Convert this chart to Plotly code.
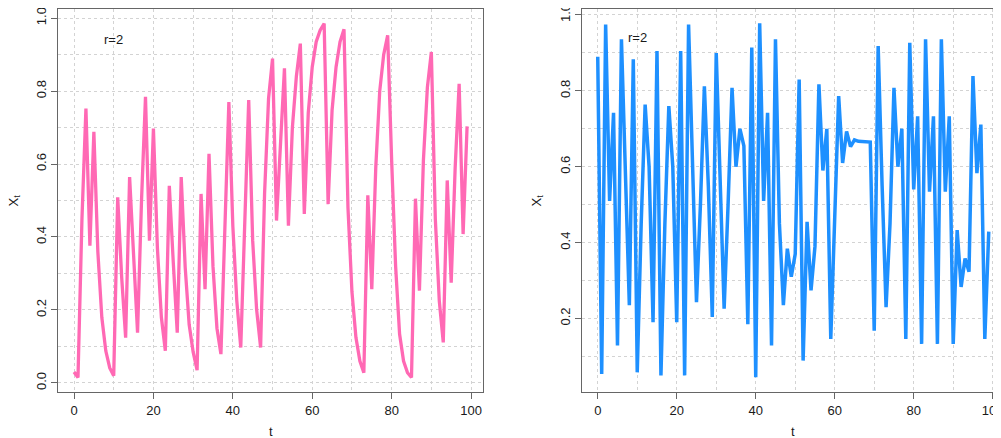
import plotly.graph_objects as go

t = list(range(100))

pink_x = [0.03, 0.015, 0.45, 0.752, 0.376, 0.688, 0.36, 0.18, 0.088, 0.041,
          0.02, 0.509, 0.29, 0.124, 0.564, 0.34, 0.138, 0.5, 0.784, 0.39,
          0.697, 0.37, 0.18, 0.088, 0.54, 0.33, 0.138, 0.564, 0.317, 0.16,
          0.085, 0.035, 0.518, 0.257, 0.628, 0.32, 0.15, 0.079, 0.42, 0.77,
          0.43, 0.225, 0.097, 0.45, 0.775, 0.39, 0.2, 0.097, 0.52, 0.78,
          0.889, 0.445, 0.65, 0.862, 0.431, 0.70, 0.84, 0.93, 0.463, 0.74,
          0.866, 0.935, 0.967, 0.985, 0.49, 0.748, 0.866, 0.935, 0.969, 0.48,
          0.25, 0.125, 0.06, 0.028, 0.514, 0.257, 0.59, 0.80, 0.90, 0.953,
          0.61, 0.32, 0.134, 0.06, 0.028, 0.015, 0.505, 0.253, 0.61, 0.81,
          0.907, 0.45, 0.225, 0.111, 0.555, 0.275, 0.59, 0.82, 0.408, 0.703]

blue_x = [0.89, 0.054, 0.975, 0.51, 0.742, 0.129, 0.936, 0.55, 0.235, 0.883,
          0.058, 0.45, 0.764, 0.60, 0.19, 0.905, 0.05, 0.45, 0.76, 0.60,
          0.19, 0.905, 0.05, 0.975, 0.58, 0.243, 0.50, 0.812, 0.55, 0.204,
          0.90, 0.55, 0.226, 0.50, 0.808, 0.60, 0.70, 0.655, 0.185, 0.914,
          0.045, 0.978, 0.51, 0.742, 0.129, 0.936, 0.45, 0.235, 0.384, 0.31,
          0.37, 0.83, 0.089, 0.455, 0.274, 0.39, 0.817, 0.59, 0.70, 0.146,
          0.45, 0.786, 0.61, 0.693, 0.653, 0.671, 0.667, 0.667, 0.667, 0.665,
          0.168, 0.918, 0.55, 0.23, 0.45, 0.808, 0.60, 0.70, 0.146, 0.927,
          0.54, 0.733, 0.133, 0.936, 0.534, 0.733, 0.133, 0.936, 0.534, 0.733,
          0.133, 0.433, 0.283, 0.358, 0.323, 0.839, 0.583, 0.711, 0.146, 0.429]

x_ticks = [0, 20, 40, 60, 80, 100]
y_ticks = [0.0, 0.2, 0.4, 0.6, 0.8, 1.0]
y_tick_text = ["0.0", "0.2", "0.4", "0.6", "0.8", "1.0"]
label_text = "r=2"

# the page body has an 8px margin; work in window pixels and shift
OFF = 8
W, H = 1001 - OFF, 438 - OFF
FONT = "Liberation Sans, Arial, sans-serif"
FRAME = "#666666"
GRID = "#d3d3d3"
TXT = "#1a1a1a"

fig = go.Figure()
fig.add_trace(go.Scatter(x=t, y=pink_x, mode="lines",
                         line=dict(color="#FF69B4", width=3.3),
                         xaxis="x", yaxis="y", showlegend=False))
fig.add_trace(go.Scatter(x=t, y=blue_x, mode="lines",
                         line=dict(color="#1E90FF", width=3.5),
                         xaxis="x2", yaxis="y2", showlegend=False))

# panel geometry in window pixels
L1, R1 = 58.3, 482.8
L2, R2 = 582.1, 1001.0
TOP, BOT = 9.3, 391.7

def px(v):
    return (v - OFF) / W

def py(v):
    return (H - (v - OFF)) / H

ydom = [py(BOT), py(TOP)]

def xaxis(dom, rng, anchor):
    return dict(domain=[px(dom[0]), min(1.0, px(dom[1]))], range=rng, anchor=anchor,
                tickmode="array", tickvals=x_ticks,
                ticktext=[str(v) for v in x_ticks],
                showgrid=True, gridcolor=GRID, griddash="dot", gridwidth=1,
                minor=dict(dtick=10, tick0=0, showgrid=True, gridcolor=GRID,
                           griddash="dot", gridwidth=1, ticklen=0),
                zeroline=False, showline=True, linecolor=FRAME, linewidth=1,
                mirror=True, ticks="outside", ticklen=6, tickcolor=FRAME,
                ticklabelstandoff=1, ticklabeloverflow="allow",
                tickfont=dict(family=FONT, size=13, color=TXT),
                automargin=False, fixedrange=True)

def yaxis(anchor, rng, mirror):
    return dict(domain=ydom, range=rng, anchor=anchor, tickmode="array",
                tickvals=y_ticks, ticktext=y_tick_text, tickangle=-90,
                showgrid=True, gridcolor=GRID, griddash="dot", gridwidth=1,
                minor=dict(dtick=0.1, tick0=0, showgrid=True, gridcolor=GRID,
                           griddash="dot", gridwidth=1, ticklen=0),
                zeroline=False, showline=True, linecolor=FRAME, linewidth=1,
                mirror=mirror, ticks="outside", ticklen=6, tickcolor=FRAME,
                ticklabeloverflow="allow",
                tickfont=dict(family=FONT, size=13, color=TXT),
                automargin=False, fixedrange=True)

fig.update_layout(
    width=W, height=H,
    margin=dict(l=0, r=0, t=0, b=0),
    paper_bgcolor="white", plot_bgcolor="white",
    xaxis=xaxis((L1, R1), [-3.96, 102.96], "y"),
    yaxis=yaxis("x", [-0.024, 1.024], True),
    xaxis2=xaxis((L2, R2), [-3.96, 102.1], "y2"),
    yaxis2=yaxis("x2", [0.007, 1.015], False),
)

anns = []
for xr, yr in (("x", "y"), ("x2", "y2")):
    anns.append(dict(x=10, y=0.94, xref=xr, yref=yr, text=label_text,
                     xanchor="center", yanchor="middle",
                     showarrow=False, font=dict(family=FONT, size=13, color=TXT)))
for cx, tx in ((14, (L1 + R1) / 2), (537, (L2 + 1004.4) / 2)):
    anns.append(dict(x=px(cx), y=py((TOP + BOT) / 2), xref="paper", yref="paper",
                     text="X<sub>t</sub>", textangle=-90, showarrow=False,
                     xanchor="center", yanchor="middle", borderpad=0,
                     font=dict(family=FONT, size=13, color=TXT)))
    anns.append(dict(x=px(tx), y=py(431), xref="paper", yref="paper",
                     text="t", showarrow=False, xanchor="center", yanchor="middle",
                     font=dict(family=FONT, size=13, color=TXT)))
fig.update_layout(annotations=anns)

fig.write_html("out.html")
